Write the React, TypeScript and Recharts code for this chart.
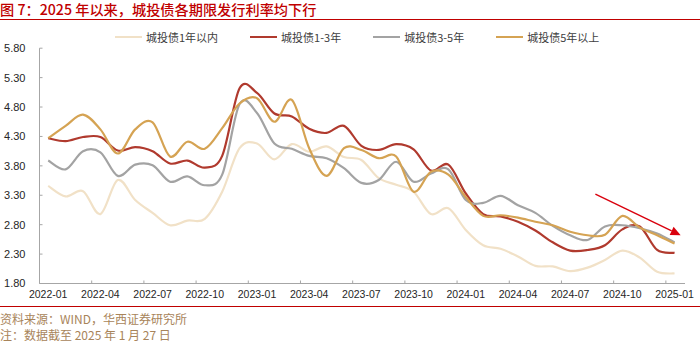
import React from "react";
import { LineChart, Line, XAxis, YAxis, ReferenceLine } from "recharts";

// month index (mid-month) for Jan 2022 .. Jan 2025
const months = [
  0.5, 1.5, 2.5, 3.5, 4.5, 5.5, 6.5, 7.5, 8.5, 9.5, 10.5, 11.5,
  12.5, 13.5, 14.5, 15.5, 16.5, 17.5, 18.5, 19.5, 20.5, 21.5, 22.5, 23.5,
  24.5, 25.5, 26.5, 27.5, 28.5, 29.5, 30.5, 31.5, 32.5, 33.5, 34.5, 35.5,
  36.5,
];

const within1y = [
  3.46, 3.28, 3.37, 2.98, 3.56, 3.22, 3.0, 2.79, 2.87, 2.9, 3.36, 4.1,
  4.18, 3.91, 4.17, 4.04, 4.13, 3.95, 3.9, 3.59, 3.48, 3.36, 2.98, 3.08,
  2.71, 2.45, 2.39, 2.26, 2.1, 2.09, 2.01, 2.07, 2.2, 2.36, 2.24, 2.0,
  1.97,
];
const y1to3 = [
  4.27, 4.22, 4.29, 4.29, 4.06, 4.12, 4.05, 3.84, 3.89, 3.77, 3.97, 5.12,
  5.04, 4.69, 4.64, 4.43, 4.36, 4.48, 4.14, 4.07, 4.17, 4.08, 3.72, 3.82,
  3.33, 2.98, 2.94, 2.85, 2.7, 2.5, 2.36, 2.37, 2.45, 2.72, 2.77, 2.37,
  2.32,
];
const y3to5 = [
  3.89, 3.74, 4.05, 4.03, 3.63, 3.82, 3.81, 3.53, 3.62, 3.47, 3.65, 4.85,
  4.7, 4.18, 4.09, 3.97, 3.93, 3.76, 3.51, 3.56, 3.87, 3.53, 3.67, 3.74,
  3.22, 3.17, 3.29, 3.13, 3.0, 2.78, 2.62, 2.54, 2.77, 2.79, 2.74, 2.65,
  2.5,
];
const over5y = [
  4.27, 4.48, 4.67, 4.42, 4.01, 4.42, 4.54, 3.96, 4.21, 4.09, 4.44, 4.86,
  4.95, 4.55, 4.92, 4.1, 3.63, 4.1, 4.07, 3.93, 3.96, 3.36, 3.7, 3.65,
  3.27, 2.95, 2.96, 2.92, 2.85, 2.79, 2.68, 2.62, 2.63, 2.95, 2.75, 2.62,
  2.48,
];

const xTicks = [0, 3, 6, 9, 12, 15, 18, 21, 24, 27, 30, 33, 36];
const xLabels = [
  "2022-01", "2022-04", "2022-07", "2022-10", "2023-01", "2023-04", "2023-07",
  "2023-10", "2024-01", "2024-04", "2024-07", "2024-10", "2025-01",
];
const yTicks = [1.8, 2.3, 2.8, 3.3, 3.8, 4.3, 4.8, 5.3, 5.8];

const series = [
  { key: "a", name: "城投债1年以内", color: "#f1e1c7", values: within1y },
  { key: "b", name: "城投债1-3年", color: "#b03a2e", values: y1to3 },
  { key: "c", name: "城投债3-5年", color: "#a3a3a3", values: y3to5 },
  { key: "d", name: "城投债5年以上", color: "#d5a353", values: over5y },
];

// trend arrow (month, yield)
const arrowFrom = { x: 31.95, y: 3.32 };
const arrowTo = { x: 36.85, y: 2.62 };

const data = months.map((t, i) => {
  const row: any = { t };
  series.forEach((s) => (row[s.key] = s.values[i]));
  return row;
});

// Excel-style smoothed line (cardinal / catmull-rom like)
function smoothCurve(context: any) {
  let pts: number[][] = [];
  return {
    areaStart() {},
    areaEnd() {},
    lineStart() {
      pts = [];
    },
    point(x: number, y: number) {
      pts.push([+x, +y]);
    },
    lineEnd() {
      if (!pts.length) return;
      context.moveTo(pts[0][0], pts[0][1]);
      const k = 1 / 6;
      for (let i = 0; i < pts.length - 1; i++) {
        const p0 = pts[i - 1] || pts[i];
        const p1 = pts[i];
        const p2 = pts[i + 1];
        const p3 = pts[i + 2] || pts[i + 1];
        context.bezierCurveTo(
          p1[0] + (p2[0] - p0[0]) * k,
          p1[1] + (p2[1] - p0[1]) * k,
          p2[0] - (p3[0] - p1[0]) * k,
          p2[1] - (p3[1] - p1[1]) * k,
          p2[0],
          p2[1]
        );
      }
    },
  };
}

const axisFont = "Liberation Sans, Arial, sans-serif";
const cjkFont = "'Noto Sans CJK SC', sans-serif";

const XTick = (props: any) => {
  const { x, y, payload } = props;
  const label = xLabels[xTicks.indexOf(payload.value)];
  return (
    <text x={x + 8.7} y={y} dy="0.71em" textAnchor="middle" fontSize={10.5} fill="#262626" fontFamily={axisFont}>
      {label}
    </text>
  );
};

const Arrow = (props: any) => {
  const { x1, y1, x2, y2 } = props;
  if (x1 == null) return null;
  const ang = Math.atan2(y2 - y1, x2 - x1);
  const len = 10;
  const half = 4.5;
  const bx = x2 - len * Math.cos(ang);
  const by = y2 - len * Math.sin(ang);
  const px = -Math.sin(ang) * half;
  const py = Math.cos(ang) * half;
  return (
    <g>
      <line x1={x1} y1={y1} x2={bx} y2={by} stroke="#d9000d" strokeWidth={1.4} />
      <polygon points={`${x2},${y2} ${bx + px},${by + py} ${bx - px},${by - py}`} fill="#d9000d" />
    </g>
  );
};

export default function App() {
  return (
    <div style={{ position: "absolute", left: 0, top: 0, width: 700, height: 342, background: "#fff", overflow: "hidden" }}>
      <div style={{ position: "absolute", left: 0, top: 2, fontFamily: cjkFont, fontSize: 14.2, lineHeight: "15px", color: "#c00000", fontWeight: 500, whiteSpace: "nowrap" }}>
        图 7：2025 年以来，城投债各期限发行利率均下行
      </div>
      <div style={{ position: "absolute", left: 0, top: 18.5, width: 700, height: 1.5, background: "#c00000" }} />

      <div style={{ position: "absolute", left: 115, top: 29, display: "flex", gap: 32, fontFamily: cjkFont, fontSize: 11, color: "#404040", lineHeight: "16px" }}>
        {series.map((s) => (
          <div key={s.key} style={{ display: "flex", alignItems: "center" }}>
            <div style={{ width: 27, height: 2.2, background: s.color, marginRight: 4 }} />
            <span>{s.name}</span>
          </div>
        ))}
      </div>

      <div style={{ position: "absolute", left: 0, top: 0 }}>
        <LineChart width={700} height={310} data={data} margin={{ top: 48.2, right: 15, bottom: 0, left: 0 }}>
          <XAxis
            dataKey="t"
            type="number"
            domain={[0, 37.1]}
            ticks={xTicks}
            interval={0}
            height={26.5}
            stroke="#a6a6a6"
            tickSize={-3}
            tickMargin={10}
            tick={<XTick />}
          />
          <YAxis
            type="number"
            domain={[1.8, 5.8]}
            ticks={yTicks}
            interval={0}
            width={39.5}
            stroke="#a6a6a6"
            tickSize={-3}
            tickMargin={17}
            tickFormatter={(v: number) => v.toFixed(2)}
            tick={{ fontSize: 11, fill: "#262626", fontFamily: axisFont }}
          />
          {series.map((s) => (
            <Line
              key={s.key}
              dataKey={s.key}
              name={s.name}
              type={smoothCurve as any}
              stroke={s.color}
              strokeWidth={2.2}
              dot={false}
              activeDot={false}
              isAnimationActive={false}
            />
          ))}
          <ReferenceLine segment={[arrowFrom, arrowTo]} shape={<Arrow />} ifOverflow="visible" />
        </LineChart>
      </div>

      <div style={{ position: "absolute", left: 0, top: 305.5, width: 700, height: 1.5, background: "#c00000" }} />
      <div style={{ position: "absolute", left: 0, top: 310.5, fontFamily: cjkFont, fontSize: 12, lineHeight: "16px", color: "#a8845a", whiteSpace: "nowrap" }}>
        资料来源：WIND，华西证券研究所
      </div>
      <div style={{ position: "absolute", left: 0, top: 326.5, fontFamily: cjkFont, fontSize: 12, lineHeight: "16px", color: "#a8845a", whiteSpace: "nowrap" }}>
        注：数据截至 2025 年 1 月 27 日
      </div>
    </div>
  );
}
